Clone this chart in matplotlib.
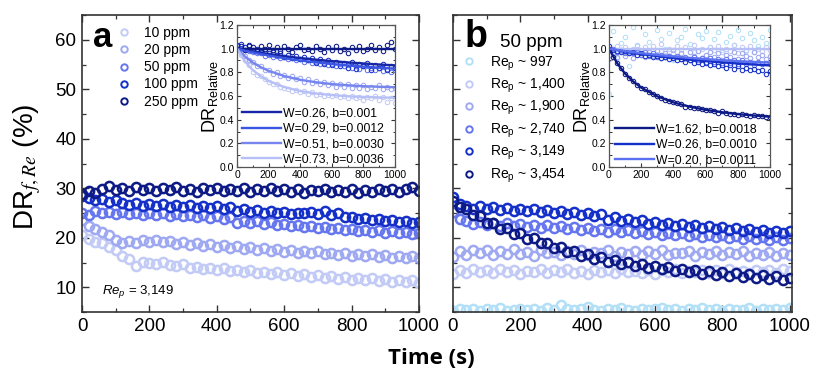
import matplotlib
matplotlib.use("Agg")
import matplotlib.pyplot as plt
from matplotlib.ticker import MultipleLocator

plt.rcParams['font.family'] = ['Liberation Sans', 'DejaVu Sans']
plt.rcParams['mathtext.fontset'] = 'custom'
plt.rcParams['mathtext.rm'] = 'Liberation Sans'
plt.rcParams['mathtext.it'] = 'Liberation Sans:italic'
plt.rcParams['mathtext.bf'] = 'Liberation Sans:bold'

# ---------------- data ----------------
t_main = [0, 20, 40, 60, 80, 100, 120, 140, 160, 180, 200, 220, 240, 260, 280, 300, 320, 340, 360, 380,
          400, 420, 440, 460, 480, 500, 520, 540, 560, 580, 600, 620, 640, 660, 680, 700, 720, 740, 760, 780,
          800, 820, 840, 860, 880, 900, 920, 940, 960, 980, 1000]

# panel a: DR (%) at Re_p = 3,149 for several concentrations
conc_labels = ['10 ppm', '20 ppm', '50 ppm', '100 ppm', '250 ppm']
a_10 = [20.6, 19.8, 19.2, 18.9, 18.1, 17.6, 16.4, 15.8, 14.3, 15.2, 15.0, 14.6, 15.1, 14.4, 14.2, 14.6, 13.9,
        14.1, 13.6, 13.9, 13.4, 13.8, 13.2, 13.5, 13.0, 13.4, 12.8, 13.1, 12.7, 13.0, 12.4, 12.8, 12.3, 12.6,
        12.1, 12.5, 11.9, 12.3, 11.6, 12.0, 11.5, 11.9, 11.4, 11.8, 11.2, 11.6, 11.1, 11.5, 11.0, 11.4, 10.9]
a_20 = [23.6, 22.4, 21.8, 21.2, 20.6, 19.6, 19.0, 19.4, 19.0, 19.5, 19.2, 19.6, 19.1, 19.4, 18.8, 19.2, 18.6,
        18.9, 18.4, 18.7, 18.2, 18.6, 18.0, 18.4, 17.8, 18.2, 17.6, 17.9, 17.4, 17.8, 17.2, 17.5, 17.0, 17.4,
        16.9, 17.3, 16.7, 17.0, 16.5, 16.9, 16.4, 16.8, 16.3, 16.7, 16.2, 16.5, 16.0, 16.4, 15.9, 16.3, 16.0]
a_50 = [25.0, 24.6, 25.4, 24.9, 25.3, 24.8, 25.2, 24.7, 25.1, 24.6, 25.0, 24.5, 24.9, 24.4, 24.8, 24.3, 24.6,
        24.1, 24.5, 24.0, 24.3, 23.8, 24.1, 22.9, 23.4, 23.0, 23.3, 22.8, 23.1, 22.5, 22.8, 22.3, 22.6, 22.1,
        22.4, 21.9, 22.2, 21.7, 22.0, 21.5, 21.8, 21.3, 21.6, 21.2, 21.5, 21.0, 21.4, 20.9, 21.2, 20.8, 21.0]
a_100 = [28.5, 28.0, 27.6, 27.9, 27.3, 27.6, 27.0, 26.6, 27.1, 26.5, 26.9, 26.4, 26.8, 26.3, 26.7, 26.2, 26.6,
         26.1, 26.5, 26.0, 26.4, 25.9, 26.2, 25.5, 25.9, 25.3, 25.6, 25.1, 25.4, 24.9, 25.2, 24.7, 25.0, 24.9,
         25.3, 24.8, 25.4, 24.6, 24.9, 24.1, 24.2, 23.7, 24.0, 23.5, 23.8, 23.3, 23.6, 23.1, 23.4, 22.9, 23.1]
a_250 = [28.8, 29.4, 29.0, 29.8, 30.4, 29.6, 30.1, 29.5, 30.2, 29.7, 30.1, 29.4, 30.0, 29.6, 30.2, 29.5, 29.9,
         29.3, 30.0, 29.6, 30.1, 29.4, 29.9, 29.5, 30.0, 29.3, 29.8, 29.4, 30.0, 29.5, 29.9, 29.3, 29.8, 29.0,
         29.7, 29.4, 29.9, 29.2, 29.7, 29.3, 29.8, 29.1, 29.6, 29.2, 29.8, 29.4, 29.9, 29.3, 29.8, 30.2, 29.5]

# panel b: DR (%) at 50 ppm for several Re_p
re_labels = [r'Re$_\mathrm{p}$ ~ 997', r'Re$_\mathrm{p}$ ~ 1,400', r'Re$_\mathrm{p}$ ~ 1,900',
             r'Re$_\mathrm{p}$ ~ 2,740', r'Re$_\mathrm{p}$ ~ 3,149', r'Re$_\mathrm{p}$ ~ 3,454']
b_997 = [5.2, 5.6, 5.4, 5.7, 5.3, 5.6, 5.4, 5.8, 5.3, 5.5, 5.7, 5.4, 5.6, 5.3, 5.8, 5.5, 6.4, 5.6, 5.4, 5.7,
         6.1, 5.5, 5.3, 5.6, 5.4, 5.8, 5.5, 5.3, 5.7, 5.4, 5.6, 5.9, 5.4, 5.7, 5.3, 5.6, 5.5, 5.8, 5.4, 5.6,
         5.3, 5.7, 5.5, 5.4, 5.8, 5.3, 5.6, 5.4, 5.7, 5.5, 5.9]
b_1400 = [12.6, 13.5, 12.9, 13.7, 13.1, 13.4, 12.8, 13.6, 13.0, 13.5, 12.7, 13.3, 13.0, 13.6, 12.8, 13.4, 13.1,
          13.7, 12.9, 13.3, 12.7, 13.5, 13.0, 13.4, 12.8, 13.6, 13.1, 13.3, 12.9, 13.5, 12.7, 13.4, 13.0, 13.6,
          12.8, 13.3, 13.1, 13.5, 12.9, 13.4, 12.8, 13.6, 13.0, 13.3, 12.9, 13.5, 13.1, 13.4, 12.8, 13.6, 13.2]
b_1900 = [16.2, 17.4, 16.6, 17.6, 16.9, 17.5, 16.5, 17.3, 16.8, 17.7, 16.7, 17.2, 16.4, 17.5, 16.9, 17.1, 16.5,
          17.4, 16.8, 17.6, 16.6, 17.2, 16.9, 17.5, 16.4, 17.1, 16.8, 17.4, 16.6, 17.3, 16.7, 17.5, 16.5, 17.0,
          16.9, 17.3, 16.4, 17.2, 16.7, 17.4, 16.5, 17.1, 16.8, 17.3, 16.3, 17.0, 16.6, 17.2, 16.4, 16.9, 16.6]
b_2740 = [25.2, 23.8, 23.3, 22.7, 23.2, 22.6, 23.0, 22.4, 22.9, 22.3, 22.8, 22.2, 22.6, 22.0, 22.5, 21.9, 22.3,
          21.7, 22.2, 21.6, 22.0, 21.4, 21.8, 21.2, 21.7, 21.1, 21.5, 20.9, 21.3, 20.8, 21.2, 20.6, 21.0, 20.5,
          20.9, 20.3, 20.8, 20.2, 20.6, 20.1, 20.5, 19.9, 20.4, 19.8, 20.3, 19.7, 20.2, 19.6, 20.1, 19.6, 20.0]
b_3149 = [28.3, 26.8, 26.5, 25.9, 26.4, 25.8, 26.2, 25.7, 26.1, 25.5, 25.9, 25.4, 25.8, 25.2, 25.6, 25.0, 25.4,
          24.8, 25.2, 24.6, 25.0, 24.3, 24.7, 23.6, 24.1, 23.4, 23.8, 23.1, 23.5, 22.8, 23.2, 22.6, 23.0, 22.4,
          22.8, 22.2, 22.6, 22.0, 22.3, 21.7, 22.1, 21.5, 21.9, 21.3, 21.7, 21.1, 21.5, 21.0, 21.4, 20.9, 21.3]
b_3454 = [27.5, 26.3, 25.9, 24.5, 24.3, 23.0, 23.0, 21.8, 21.9, 20.8, 20.9, 19.8, 20.0, 18.9, 19.0, 18.0, 18.2,
          17.2, 17.4, 16.4, 16.7, 15.8, 16.1, 15.2, 15.6, 14.7, 15.1, 14.3, 14.7, 13.9, 14.3, 13.6, 14.0, 13.3,
          13.7, 13.0, 13.5, 12.7, 13.2, 12.5, 13.0, 12.3, 12.8, 12.1, 12.6, 11.9, 12.4, 11.7, 12.2, 11.5, 11.9]

# insets: relative drag reduction
t_in = [0, 25, 50, 75, 100, 125, 150, 175, 200, 225, 250, 275, 300, 325, 350, 375, 400, 425, 450, 475, 500,
        525, 550, 575, 600, 625, 650, 675, 700, 725, 750, 775, 800, 825, 850, 875, 900, 925, 950, 975, 1000]
ia_10 = [0.99, 0.95, 0.90, 0.86, 0.80, 0.78, 0.77, 0.74, 0.72, 0.70, 0.70, 0.68, 0.67, 0.66, 0.64, 0.65, 0.63,
         0.64, 0.62, 0.63, 0.61, 0.62, 0.60, 0.61, 0.60, 0.61, 0.59, 0.60, 0.58, 0.60, 0.58, 0.59, 0.57, 0.59,
         0.58, 0.60, 0.57, 0.59, 0.55, 0.58, 0.54]
ia_20 = [1.00, 0.97, 0.94, 0.90, 0.89, 0.85, 0.85, 0.82, 0.82, 0.79, 0.80, 0.77, 0.78, 0.75, 0.77, 0.74, 0.75,
         0.72, 0.74, 0.71, 0.73, 0.70, 0.72, 0.69, 0.71, 0.68, 0.70, 0.68, 0.70, 0.67, 0.69, 0.67, 0.69, 0.66,
         0.68, 0.67, 0.69, 0.66, 0.68, 0.66, 0.67]
ia_50 = [1.02, 1.00, 0.99, 0.98, 0.97, 0.96, 0.96, 0.94, 0.95, 0.93, 0.94, 0.92, 0.93, 0.91, 0.92, 0.90, 0.91,
         0.89, 0.90, 0.88, 0.89, 0.87, 0.88, 0.86, 0.87, 0.85, 0.87, 0.85, 0.86, 0.84, 0.85, 0.83, 0.85, 0.82,
         0.84, 0.82, 0.84, 0.81, 0.83, 0.80, 0.82]
ia_100 = [1.03, 1.04, 1.01, 1.02, 0.99, 1.00, 0.97, 0.98, 0.96, 0.97, 0.95, 0.96, 0.93, 0.95, 0.92, 0.94, 0.91,
          0.93, 0.90, 0.92, 0.88, 0.91, 0.87, 0.90, 0.86, 0.89, 0.85, 0.88, 0.84, 0.89, 0.83, 0.87, 0.85, 0.88,
          0.82, 0.86, 0.84, 0.87, 0.82, 0.85, 0.84]
ia_250 = [1.00, 1.02, 0.99, 1.03, 1.01, 0.98, 1.02, 1.00, 1.03, 0.99, 1.01, 0.98, 1.02, 1.00, 0.97, 1.01, 1.03,
          0.99, 1.00, 0.98, 1.02, 1.00, 0.97, 1.01, 0.99, 1.02, 0.98, 1.00, 0.96, 1.01, 0.99, 1.02, 0.98, 1.00,
          1.03, 0.99, 1.01, 0.98, 1.03, 1.06, 1.00]
ib_997 = [0.62, 1.15, 0.92, 1.05, 1.10, 0.85, 1.18, 1.02, 0.98, 1.12, 1.06, 0.95, 1.16, 1.08, 1.00, 1.13, 0.90,
          1.07, 1.10, 1.17, 1.04, 0.97, 1.12, 1.09, 1.15, 1.01, 1.08, 1.14, 0.99, 1.06, 1.11, 1.03, 1.16, 1.09,
          0.98, 1.13, 1.07, 1.02, 1.10, 1.05, 1.16]
ib_1400 = [1.00, 0.97, 1.02, 0.99, 1.01, 0.96, 1.00, 1.03, 0.98, 1.01, 0.97, 1.02, 0.99, 1.04, 0.98, 1.00, 0.96,
           1.02, 0.99, 1.01, 0.97, 1.03, 0.98, 1.00, 0.95, 1.01, 0.99, 1.02, 0.97, 1.00, 0.98, 1.03, 0.96, 1.01,
           0.99, 1.02, 0.97, 1.00, 0.98, 1.01, 0.99]
ib_1900 = [0.91, 0.96, 0.93, 0.98, 0.94, 0.97, 0.92, 0.99, 0.95, 0.93, 0.97, 0.94, 0.98, 0.92, 0.96, 0.94, 0.99,
           0.93, 0.96, 0.91, 0.97, 0.94, 0.98, 0.92, 0.95, 0.97, 0.93, 0.96, 0.90, 0.95, 0.93, 0.97, 0.91, 0.96,
           0.94, 0.92, 0.97, 0.93, 0.95, 0.91, 0.94]
ib_2740 = [0.99, 1.00, 0.97, 0.99, 0.96, 0.98, 0.96, 0.97, 0.95, 0.97, 0.94, 0.96, 0.93, 0.95, 0.93, 0.94, 0.92,
           0.94, 0.91, 0.93, 0.90, 0.93, 0.90, 0.92, 0.89, 0.92, 0.89, 0.91, 0.88, 0.91, 0.88, 0.90, 0.87, 0.90,
           0.87, 0.89, 0.86, 0.89, 0.87, 0.88, 0.87]
ib_3149 = [1.02, 0.99, 0.98, 0.97, 0.98, 0.96, 0.97, 0.95, 0.96, 0.94, 0.95, 0.93, 0.94, 0.92, 0.93, 0.91, 0.92,
           0.90, 0.91, 0.89, 0.90, 0.88, 0.89, 0.87, 0.88, 0.86, 0.87, 0.85, 0.86, 0.84, 0.86, 0.83, 0.85, 0.82,
           0.84, 0.82, 0.83, 0.81, 0.82, 0.79, 0.81]
ib_3454 = [1.00, 0.93, 0.88, 0.84, 0.79, 0.75, 0.73, 0.69, 0.67, 0.66, 0.63, 0.62, 0.60, 0.58, 0.57, 0.56, 0.55,
           0.54, 0.53, 0.51, 0.51, 0.50, 0.50, 0.49, 0.48, 0.48, 0.47, 0.46, 0.47, 0.46, 0.45, 0.45, 0.44, 0.45,
           0.44, 0.43, 0.44, 0.43, 0.43, 0.42, 0.42]

# fitted curves
t_fit = [0, 50, 100, 150, 200, 300, 400, 500, 600, 700, 800, 900, 1000]
fit_w026 = [1.000, 0.987, 0.976, 0.965, 0.955, 0.937, 0.921, 0.907, 0.895, 0.884, 0.875, 0.866, 0.859]
fit_w029 = [1.000, 0.983, 0.968, 0.954, 0.942, 0.919, 0.900, 0.884, 0.870, 0.859, 0.848, 0.839, 0.831]
fit_w051 = [1.000, 0.934, 0.883, 0.844, 0.813, 0.768, 0.737, 0.716, 0.701, 0.691, 0.683, 0.678, 0.674]
fit_w073 = [1.000, 0.893, 0.819, 0.767, 0.727, 0.675, 0.642, 0.621, 0.608, 0.598, 0.592, 0.588, 0.585]
fit_w162 = [1.000, 0.878, 0.789, 0.723, 0.671, 0.597, 0.546, 0.510, 0.483, 0.463, 0.447, 0.435, 0.425]
fit_w020 = [1.000, 0.989, 0.980, 0.970, 0.962, 0.947, 0.934, 0.922, 0.912, 0.903, 0.895, 0.888, 0.882]
t_flat = [0, 1000]
fit_flat = [1.0, 1.0]

fit_labels_a = ['W=0.26, b=0.001', 'W=0.29, b=0.0012', 'W=0.51, b=0.0030', 'W=0.73, b=0.0036']
fit_labels_b = ['W=1.62, b=0.0018', 'W=0.26, b=0.0010', 'W=0.20, b=0.0011']

# ---------------- style ----------------
c_sky = '#b3e0f7'
c1 = '#c2caf6'
c2 = '#9ea9f1'
c3 = '#6576ee'
c4 = '#1430c8'
c5 = '#0d1a85'
frame_col = '#333333'

W, H = 816, 375
fig = plt.figure(figsize=(8.16, 3.75), dpi=100)
axA = fig.add_axes([82 / W, 1 - 312 / H, 337 / W, 297 / H])
axB = fig.add_axes([453 / W, 1 - 312 / H, 339 / W, 297 / H])
insA = fig.add_axes([237 / W, 1 - 167 / H, 158 / W, 142 / H])
insB = fig.add_axes([609 / W, 1 - 167 / H, 161 / W, 142 / H])

mk = dict(marker='o', ls='none', mfc='none', ms=6.6, mew=1.8)
mk_in = dict(marker='o', ls='none', mfc='none', ms=3.2, mew=0.75)

# panel a
for y, c, lab in zip([a_10, a_20, a_50, a_100, a_250], [c1, c2, c3, c4, c5], conc_labels):
    axA.plot(t_main, y, mec=c, label=lab, **mk)
# panel b
for y, c, lab in zip([b_997, b_1400, b_1900, b_2740, b_3149, b_3454], [c_sky, c1, c2, c3, c4, c5], re_labels):
    axB.plot(t_main, y, mec=c, label=lab, **mk)

for ax, xmax in [(axA, 1000), (axB, 1007)]:
    ax.set_xlim(0, xmax)
    ax.set_ylim(5, 65)
    ax.xaxis.set_major_locator(MultipleLocator(200))
    ax.xaxis.set_minor_locator(MultipleLocator(100))
    ax.yaxis.set_major_locator(MultipleLocator(10))
    ax.yaxis.set_minor_locator(MultipleLocator(5))
    ax.tick_params(which='both', direction='in', top=True, right=True, colors=frame_col, labelcolor='black')
    ax.tick_params(which='major', length=5, width=1.0, labelsize=13.5, pad=4)
    ax.tick_params(which='minor', length=3, width=0.9)
    for s in ax.spines.values():
        s.set_linewidth(1.2)
        s.set_color(frame_col)
axA.set_yticks([10, 20, 30, 40, 50, 60])
axB.tick_params(labelleft=False)

legA = axA.legend(loc='upper left', bbox_to_anchor=(0.103, 0.962), frameon=False, fontsize=10,
                  handlelength=1.0, handletextpad=1.0, labelspacing=0.22, borderpad=0, borderaxespad=0,
                  markerscale=0.7)
for h in legA.legend_handles:
    h.set_markeredgewidth(1.4)
legB = axB.legend(loc='upper left', bbox_to_anchor=(0.026, 0.868), frameon=False, fontsize=10,
                  handlelength=1.0, handletextpad=1.0, labelspacing=0.3, borderpad=0, borderaxespad=0,
                  markerscale=0.7)
for h in legB.legend_handles:
    h.set_markeredgewidth(1.4)

axA.text(0.033, 0.892, 'a', transform=axA.transAxes, fontsize=25, fontweight='bold', va='baseline')
axB.text(0.035, 0.892, 'b', transform=axB.transAxes, fontsize=27, fontweight='bold', va='baseline')
axB.text(0.139, 0.892, '50 ppm', transform=axB.transAxes, fontsize=13.5, va='baseline')
axA.text(0.059, 0.06, r'$Re_p$ = 3,149', transform=axA.transAxes, fontsize=9.5, va='baseline')

fig.text(0.033, 0.555, r'DR$_{f,Re}$ (%)', rotation=90, ha='center', va='center', fontsize=20,
         math_fontfamily='stix')
fig.text(0.529, 0.045, 'Time (s)', ha='center', va='center', fontsize=16, fontweight='bold',
         family=['Open Sans', 'DejaVu Sans'])

# inset a
for y, c in zip([ia_10, ia_20, ia_50, ia_100, ia_250], [c1, c2, c3, c4, c5]):
    insA.plot(t_in, y, mec=c, **mk_in)
insA.plot(t_flat, fit_flat, color=c5, lw=1.7, label='_nolegend_')
for y, c, lab in zip([fit_w026, fit_w029, fit_w051, fit_w073], ['#1626a6', '#3a56e2', '#7786ee', '#b6c0f6'],
                     fit_labels_a):
    insA.plot(t_fit, y, color=c, lw=1.7, label=lab)

# inset b
for y, c in zip([ib_997, ib_1400, ib_1900, ib_2740, ib_3149, ib_3454], [c_sky, c1, c2, c3, c4, c5]):
    insB.plot(t_in, y, mec=c, **mk_in)
insB.plot(t_flat, fit_flat, color='#b6c0f6', lw=1.7, label='_nolegend_')
for y, c, lab in zip([fit_w162, fit_w026, fit_w020], [c5, '#1430c8', '#5a70f0'], fit_labels_b):
    insB.plot(t_fit, y, color=c, lw=1.7, label=lab)

for ins in (insA, insB):
    ins.set_xlim(0, 1000)
    ins.set_ylim(0, 1.2)
    ins.xaxis.set_major_locator(MultipleLocator(200))
    ins.xaxis.set_minor_locator(MultipleLocator(100))
    ins.yaxis.set_minor_locator(MultipleLocator(0.1))
    ins.set_yticks([0, 0.2, 0.4, 0.6, 0.8, 1.0, 1.2])
    ins.set_yticklabels(['0.0', '0.2', '0.4', '0.6', '0.8', '1.0', '1.2'])
    ins.tick_params(which='both', direction='in', top=True, right=True, colors=frame_col, labelcolor='black')
    ins.tick_params(which='major', length=3, width=0.8, labelsize=7.5, pad=2)
    ins.tick_params(which='minor', length=1.8, width=0.7)
    for s in ins.spines.values():
        s.set_linewidth(0.9)
        s.set_color('#555555')
    ins.set_ylabel(r'DR$_\mathrm{Relative}$', fontsize=13, labelpad=0)
    ins.patch.set_alpha(0.0)

insA.legend(loc='lower left', bbox_to_anchor=(0.03, 0.01), frameon=False, fontsize=8.8, handlelength=3.2,
            handletextpad=0.2, labelspacing=0.28, borderpad=0, borderaxespad=0, handleheight=0.6)
insB.legend(loc='lower left', bbox_to_anchor=(0.035, 0.005), frameon=False, fontsize=8.8, handlelength=3.2,
            handletextpad=0.2, labelspacing=0.28, borderpad=0, borderaxespad=0, handleheight=0.6)

fig.savefig('out.png', dpi=100)
